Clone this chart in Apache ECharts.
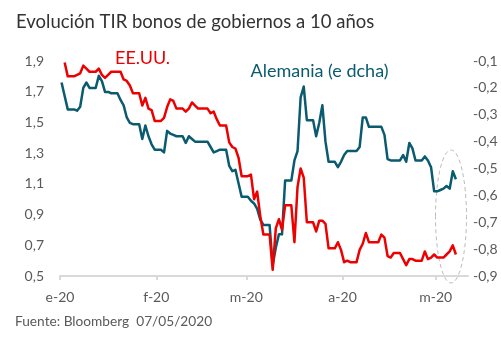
<!DOCTYPE html>
<html><head><meta charset="utf-8">
<script src="https://cdn.jsdelivr.net/npm/echarts@6/dist/echarts.min.js"></script>
<style>html,body{margin:0;padding:0;background:#fff}#c{width:501px;height:348px}</style>
</head><body><div id="c"></div>
<script>
const titleText = 'Evolución TIR bonos de gobiernos a 10 años';
const sourceText = 'Fuente: Bloomberg  07/05/2020';
const usLabel = 'EE.UU.';
const deLabel = 'Alemania (e dcha)';
const startDate = '2020-01-01';
const monthStarts = ['2020-01-01','2020-02-01','2020-03-01','2020-04-01','2020-05-01'];
const monthLabels = ['e-20','f-20','m-20','a-20','m-20'];
const leftTicks = [0.5, 1.9, 0.2];
const rightTicks = [-0.9, -0.1, 0.1];
// daily values from 2020-01-01 (index 0) to 2020-05-07 (index 127)
const usYield = [null,1.89,1.80,1.80,1.80,1.81,1.82,1.87,1.85,1.83,1.83,1.83,1.85,1.81,1.79,1.81,1.83,1.83,1.83,1.83,
1.78,1.77,1.74,1.69,1.69,1.69,1.61,1.66,1.59,1.58,1.51,1.51,1.51,1.53,1.60,1.65,1.64,1.59,1.59,1.59,
1.57,1.59,1.63,1.61,1.59,1.59,1.59,1.59,1.56,1.57,1.52,1.48,1.48,1.48,1.37,1.34,1.33,1.27,1.15,1.15,
1.15,1.16,1.00,1.05,0.89,0.77,0.77,0.77,0.54,0.81,0.87,0.80,0.96,0.96,0.96,0.72,1.08,1.20,1.14,0.85,
0.85,0.85,0.79,0.86,0.86,0.84,0.68,0.68,0.68,0.72,0.67,0.59,0.60,0.59,0.59,0.59,0.67,0.71,0.78,0.72,
0.72,0.72,0.72,0.77,0.75,0.63,0.62,0.65,0.65,0.65,0.61,0.57,0.61,0.61,0.60,0.60,0.60,0.66,0.61,0.62,
0.64,0.62,0.62,0.62,0.64,0.66,0.70,0.64];
const deYield = [-0.18,-0.23,-0.28,-0.28,-0.28,-0.285,-0.27,-0.20,-0.18,-0.20,-0.20,-0.20,-0.155,-0.175,-0.215,-0.215,-0.22,-0.22,-0.22,-0.245,
-0.265,-0.31,-0.33,-0.335,-0.335,-0.335,-0.39,-0.34,-0.38,-0.41,-0.43,-0.43,-0.43,-0.44,-0.36,-0.37,-0.375,-0.38,-0.38,-0.38,
-0.405,-0.38,-0.39,-0.40,-0.40,-0.40,-0.40,-0.40,-0.42,-0.44,-0.435,-0.43,-0.43,-0.43,-0.49,-0.51,-0.505,-0.555,-0.605,-0.605,
-0.605,-0.62,-0.63,-0.65,-0.69,-0.71,-0.71,-0.71,-0.86,-0.795,-0.745,-0.745,-0.545,-0.545,-0.545,-0.47,-0.435,-0.235,-0.195,-0.32,
-0.32,-0.32,-0.38,-0.33,-0.265,-0.40,-0.475,-0.475,-0.475,-0.495,-0.475,-0.45,-0.435,-0.435,-0.435,-0.435,-0.42,-0.31,-0.31,-0.345,
-0.345,-0.345,-0.345,-0.345,-0.375,-0.465,-0.47,-0.47,-0.47,-0.47,-0.45,-0.475,-0.405,-0.425,-0.47,-0.47,-0.47,-0.455,-0.47,-0.495,
-0.585,-0.585,-0.58,-0.575,-0.565,-0.575,-0.51,-0.54];

const DAY = 86400000;
const t0 = Date.parse(startDate);
const dayOf = d => (Date.parse(d) - t0) / DAY;
const tickDays = monthStarts.map(dayOf);
const usData = usYield.map((v, i) => [i + 0.5, v]);
const deData = deYield.map((v, i) => [i + 0.5, v]);
const fmt = v => v.toFixed(1).replace('.', ',');

const RED = '#ec0000', TEAL = '#0a5a70', GREY = '#5a5a5a';
const FONT = 'Lato';

const chart = echarts.init(document.getElementById('c'), null, {renderer: 'canvas'});
chart.setOption({
  animation: false,
  grid: { left: 60, right: 33, top: 61, bottom: 72 },
  xAxis: {
    type: 'value', min: 0, max: 131.4,
    axisLine: { show: true, lineStyle: { color: '#d9d9d9', width: 2 } },
    axisTick: { show: true, customValues: tickDays, length: 4, lineStyle: { color: '#d9d9d9', width: 2 } },
    axisLabel: { customValues: tickDays, margin: 14, fontFamily: FONT, fontSize: 14, color: GREY,
      formatter: v => monthLabels[tickDays.indexOf(v)] },
    splitLine: { show: false }
  },
  yAxis: [
    { type: 'value', position: 'left', min: leftTicks[0], max: leftTicks[1], interval: leftTicks[2],
      axisLine: { show: false }, axisTick: { show: false }, splitLine: { show: false },
      axisLabel: { formatter: fmt, margin: 16, fontFamily: FONT, fontSize: 14, color: GREY } },
    { type: 'value', position: 'right', min: rightTicks[0], max: rightTicks[1], interval: rightTicks[2],
      axisLine: { show: false }, axisTick: { show: false }, splitLine: { show: false },
      axisLabel: { formatter: fmt, margin: 5, fontFamily: FONT, fontSize: 14, color: GREY } }
  ],
  series: [
    { name: usLabel, type: 'line', yAxisIndex: 0, data: usData, showSymbol: false, z: 3,
      lineStyle: { color: RED, width: 2.5, join: 'round' } },
    { name: deLabel, type: 'line', yAxisIndex: 1, data: deData, showSymbol: false, z: 2,
      lineStyle: { color: TEAL, width: 2.5, join: 'round' } }
  ],
  graphic: [
    { type: 'text', x: 16, y: 22.5, style: { text: titleText, fill: '#333333', font: '18.5px "' + FONT + '"', verticalAlign: 'middle' } },
    { type: 'text', x: 115, y: 58.5, style: { text: usLabel, fill: RED, font: '18px "' + FONT + '"', verticalAlign: 'middle' } },
    { type: 'text', x: 250.5, y: 71.5, style: { text: deLabel, fill: TEAL, font: '18px "' + FONT + '"', verticalAlign: 'middle' } },
    { type: 'text', x: 15, y: 322, style: { text: sourceText, fill: GREY, font: '13.7px "' + FONT + '"', verticalAlign: 'middle' } },
    { type: 'ellipse', shape: { cx: 451, cy: 216.5, rx: 15.5, ry: 66.5 }, style: { fill: 'none', stroke: '#bbbbbb', lineWidth: 1, lineDash: [4, 3] }, z: 1 }
  ]
});
</script></body></html>
